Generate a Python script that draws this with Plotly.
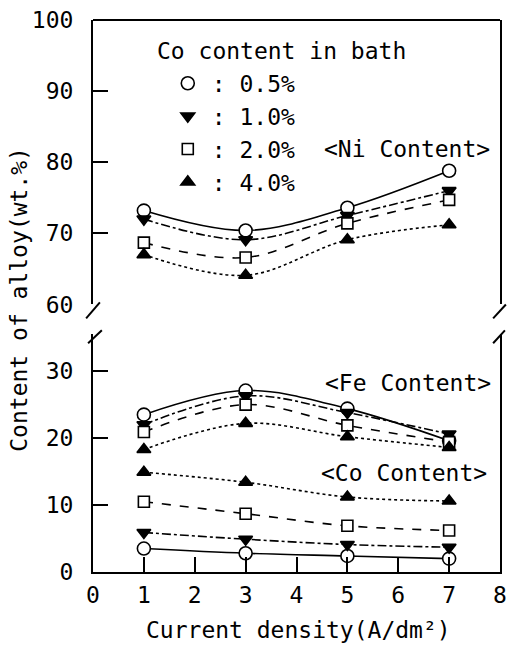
import plotly.graph_objects as go

# ---------------- data ----------------
current = [1, 3, 5, 7]
series_labels = [": 0.5%", ": 1.0%", ": 2.0%", ": 4.0%"]

ni_05 = [73.2, 70.4, 73.6, 78.8]
ni_10 = [72.0, 69.1, 72.5, 76.0]
ni_20 = [68.7, 66.6, 71.4, 74.7]
ni_40 = [67.0, 64.1, 69.1, 71.2]

fe_05 = [23.5, 27.1, 24.4, 19.6]
fe_10 = [22.0, 26.3, 23.8, 20.6]
fe_20 = [20.9, 25.0, 21.9, 19.4]
fe_40 = [18.3, 22.2, 20.2, 18.6]

co_05 = [3.5, 2.8, 2.4, 2.0]
co_10 = [5.9, 4.9, 4.1, 3.7]
co_20 = [10.5, 8.7, 6.9, 6.2]
co_40 = [14.9, 13.4, 11.2, 10.6]

x_ticks = [0, 1, 2, 3, 4, 5, 6, 7, 8]
upper_ticks = [60, 70, 80, 90, 100]
lower_ticks = [0, 10, 20, 30]

# ---------------- styles ----------------
FONT = "DejaVu Sans Mono"
FS = 23
styles = [
    dict(symbol="circle", color="white", size=13, dash="solid"),
    dict(symbol="triangle-down", color="black", size=12, dash="dashdot"),
    dict(symbol="square", color="white", size=11, dash="dash"),
    dict(symbol="triangle-up", color="black", size=12, dash="dot"),
]

fig = go.Figure()

groups = [
    ([ni_05, ni_10, ni_20, ni_40], "y"),
    ([fe_05, fe_10, fe_20, fe_40], "y2"),
    ([co_05, co_10, co_20, co_40], "y2"),
]
for vals, yax in groups:
    for v, st in zip(vals, styles):
        fig.add_trace(go.Scatter(
            x=current, y=v, xaxis="x", yaxis=yax, mode="lines+markers",
            line=dict(color="black", width=1.6, dash=st["dash"], shape="spline", smoothing=1.0),
            marker=dict(symbol=st["symbol"], size=st["size"], color=st["color"],
                        line=dict(color="black", width=1.6)),
            showlegend=False, hoverinfo="skip", cliponaxis=False))

# legend-only entries (markers only)
for lab, st in zip(series_labels, styles):
    fig.add_trace(go.Scatter(
        x=[None], y=[None], mode="markers", name=lab, xaxis="x", yaxis="y",
        marker=dict(symbol=st["symbol"], size=st["size"], color=st["color"],
                    line=dict(color="black", width=1.6)),
        showlegend=True))

W, H = 514, 648
L, R, T, B = 93, 507, 17, 572


def px(xp):
    return (xp - L) / (R - L)


def py(yp):
    return (B - yp) / (B - T)


upper_bottom = py(303)
lower_top = py(333)

tick_common = dict(ticks="inside", ticklen=15, tickwidth=2, tickcolor="black",
                   showline=True, linecolor="black", linewidth=2, showgrid=False,
                   zeroline=False, tickfont=dict(family=FONT, size=FS))

fig.update_layout(
    width=W, height=H,
    margin=dict(l=L, r=W - R, t=T, b=H - B, pad=0),
    paper_bgcolor="white", plot_bgcolor="white",
    font=dict(family=FONT, size=FS, color="black"),
    xaxis=dict(domain=[0, 1], range=[0, 8], anchor="y2", tickvals=x_ticks,
               ticklabelstandoff=1, **tick_common),
    yaxis=dict(domain=[upper_bottom, 1], range=[60, 100], anchor="x",
               tickvals=upper_ticks, mirror=True, ticklabelstandoff=13, **tick_common),
    yaxis2=dict(domain=[0, lower_top], range=[0, 35.5], anchor="x",
                tickvals=lower_ticks, mirror=True, ticklabelstandoff=13, **tick_common),
    legend=dict(x=px(165), y=py(59), xanchor="left", yanchor="top",
                bgcolor="rgba(0,0,0,0)", font=dict(family=FONT, size=FS),
                itemwidth=38, tracegroupgap=0),
    showlegend=True,
)

# top border of upper panel
fig.add_shape(type="line", xref="paper", yref="paper", x0=0, x1=1, y0=1, y1=1,
              line=dict(color="black", width=2))

# axis break marks
for (x0, y0, x1, y1) in [(86, 317, 100, 301), (88, 342, 102, 329),
                         (500, 317, 513, 303), (500, 342, 512, 329)]:
    fig.add_shape(type="line", xref="paper", yref="paper",
                  x0=px(x0), y0=py(y0), x1=px(x1), y1=py(y1),
                  line=dict(color="black", width=2))

ann = dict(xref="paper", yref="paper", showarrow=False,
           font=dict(family=FONT, size=FS, color="black"))
fig.add_annotation(text="Co content in bath", x=px(156), y=py(48),
                   xanchor="left", yanchor="middle", **ann)
fig.add_annotation(text="&lt;Ni Content&gt;", x=px(412), y=py(147),
                   xanchor="center", yanchor="middle", **ann)
fig.add_annotation(text="&lt;Fe Content&gt;", x=px(413), y=py(382),
                   xanchor="center", yanchor="middle", **ann)
fig.add_annotation(text="&lt;Co Content&gt;", x=px(409), y=py(472),
                   xanchor="center", yanchor="middle", **ann)
fig.add_annotation(text="Current density(A/dm²)", x=px(302), y=py(630),
                   xanchor="center", yanchor="middle", **ann)
fig.add_annotation(text="Content of alloy(wt.%)", x=px(18), y=py(298),
                   xanchor="center", yanchor="middle", textangle=-90, **ann)

fig.write_html("out.html")
